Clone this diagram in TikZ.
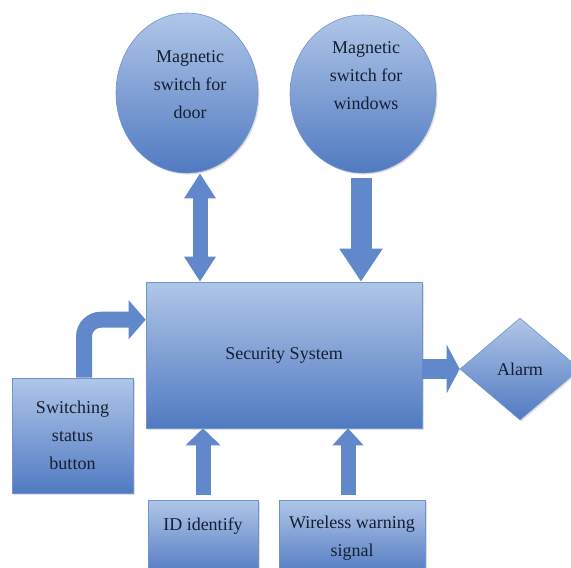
\documentclass[tikz,border=0pt]{standalone}
\usepackage{fontspec}
\setmainfont{Liberation Serif}
\usetikzlibrary{shapes.geometric,arrows.meta,shadows}
\definecolor{boxtop}{RGB}{176,198,232}
\definecolor{boxbottom}{RGB}{80,122,193}
\definecolor{arrowfill}{RGB}{96,136,202}
\definecolor{edgeblue}{RGB}{112,148,206}
\definecolor{labeltext}{RGB}{22,30,50}
\tikzset{
    block_box/.style = {
        draw=edgeblue,
        line width=0.6pt,
        top color=boxtop,
        bottom color=boxbottom,
        drop shadow={shadow xshift=1.5pt, shadow yshift=-1.5pt, opacity=0.25},
        inner sep=0pt
    },
    round_box/.style = {
        block_box,
        ellipse
    },
    choice_box/.style = {
        block_box,
        diamond
    },
    box_text/.style = {
        font=\fontsize{18}{28}\selectfont,
        text=labeltext,
        align=center
    },
    block_arrow/.style = {
        draw=arrowfill,
        line width=#1
    },
}

\begin{document}
\begin{tikzpicture}[x=1pt,y=-1pt]
    \useasboundingbox (0,0) rectangle (571,568);
    \clip (0,0) rectangle (571,568);

    \node[round_box, minimum width=142pt, minimum height=160pt] (door) at (187,93) {};
    \node[box_text] (door_text) at (190,85) {Magnetic\\switch for\\door};
    \node[round_box, minimum width=146pt, minimum height=158pt] (win) at (363,94) {};
    \node[box_text] (win_text) at (366,76) {Magnetic\\switch for\\windows};

    \node[block_box, box_text, minimum width=276pt, minimum height=146pt] (sec) at (284,355) {Security System};
    \node[block_box, box_text, minimum width=121pt, minimum height=115pt] (sw) at (72.5,435.5) {Switching\\status\\button};
    \node[block_box, box_text, text depth=28pt, minimum width=110pt, minimum height=76pt] (id) at (203,538) {ID identify};
    \node[block_box, box_text, minimum width=146pt, minimum height=76pt] (wireless) at (352,538) {Wireless warning\\signal};
    \node[choice_box, box_text, minimum width=120pt, minimum height=102pt] (alarm) at (520,369) {Alarm};

    \draw[block_arrow=15pt, {Triangle[length=25pt,width=30pt]}-{Triangle[length=25pt,width=30pt]}]
        ([xshift=13pt]door.south) -- ([xshift=13pt]door.south |- sec.north);
    \draw[block_arrow=21pt, -{Triangle[length=33pt,width=41pt]}]
        ([xshift=-2pt,yshift=-5pt]win.south) -- ([xshift=-2pt]win.south |- sec.north);
    \draw[block_arrow=16pt, rounded corners=17pt, -{Triangle[length=17pt,width=38pt]}]
        ([xshift=11.5pt]sw.north) |- ([yshift=-38pt]sec.north west);
    \draw[block_arrow=15pt, -{Triangle[length=17pt,width=34pt]}]
        ([yshift=5pt]id.north) -- (id.north |- sec.south);
    \draw[block_arrow=15pt, -{Triangle[length=17pt,width=30pt]}]
        ([xshift=-4pt,yshift=5pt]wireless.north) -- ([xshift=-4pt]wireless.north |- sec.south);
    \draw[block_arrow=20pt, -{Triangle[length=13pt,width=48pt]}]
        (sec.east |- alarm.west) -- (alarm.west);
\end{tikzpicture}
\end{document}
